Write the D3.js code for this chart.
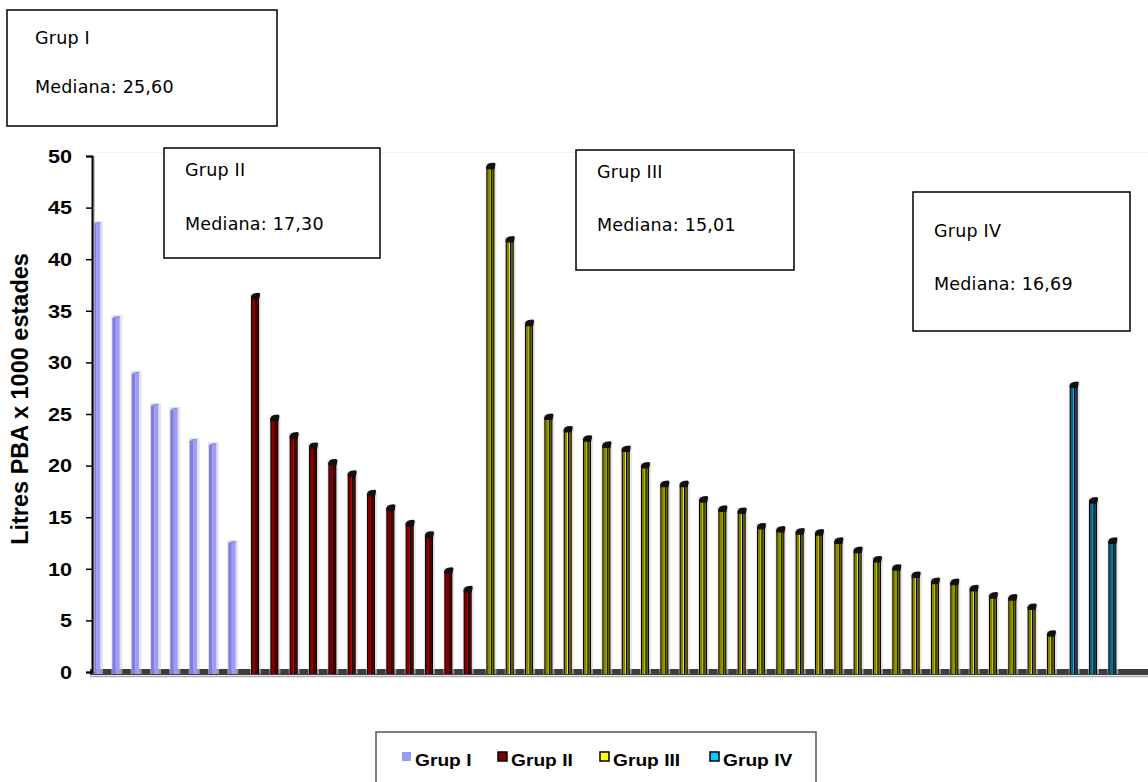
<!DOCTYPE html>
<html>
<head>
<meta charset="utf-8">
<script src="https://cdn.jsdelivr.net/npm/d3@7"></script>
<style>
  html, body { margin: 0; padding: 0; background: #fff; }
  svg { display: block; }
</style>
</head>
<body>
<svg id="chart" width="1148" height="782"></svg>
<script>
// ---- data ----
const groupNames = ["Grup I", "Grup II", "Grup III", "Grup IV"];
const grupI   = [43.4, 34.3, 28.9, 25.8, 25.4, 22.4, 22.0, 12.5];
const grupII  = [36.4, 24.6, 22.9, 21.9, 20.3, 19.2, 17.3, 15.9, 14.4, 13.3, 9.8, 8.0];
const grupIII = [49.0, 41.9, 33.8, 24.7, 23.5, 22.6, 22.0, 21.6, 20.0, 18.2, 18.2, 16.7, 15.8, 15.6,
                 14.1, 13.8, 13.6, 13.5, 12.7, 11.8, 10.9, 10.1, 9.4, 8.8, 8.7, 8.1, 7.4, 7.2, 6.3, 3.7];
const grupIV  = [27.8, 16.6, 12.7];
const medianLabels = ["25,60", "17,30", "15,01", "16,69"];
const yTickValues = [0, 5, 10, 15, 20, 25, 30, 35, 40, 45, 50];
const yAxisTitle = "Litres PBA x 1000 estades";

// ---- styles ----
const palette = {
  "Grup I":   {a: "#7f7fda", b: "#9c9cff", c: "#8e8ef0", legend: "#9999ff", outline: false},
  "Grup II":  {a: "#800000", b: "#c00000", c: "#5e0000", legend: "#800000", outline: true},
  "Grup III": {a: "#848400", b: "#e8e800", c: "#666600", legend: "#ffff00", outline: true},
  "Grup IV":  {a: "#0b6587", b: "#2aa6d0", c: "#074e6a", legend: "#00ccff", outline: true}
};

// build flat list of bars (one category per bar)
const seriesValues = [grupI, grupII, grupIII, grupIV];
const bars = [];
seriesValues.forEach((vals, s) => vals.forEach(v => bars.push({group: groupNames[s], value: v, idx: bars.length})));

const svg = d3.select("#chart");
const x = d3.scaleBand().domain(d3.range(bars.length)).range([93, 93 + bars.length * 19.33]).padding(0);
const xs = d3.scalePoint().domain(groupNames).range([0, 10.2]);
const y = d3.scaleLinear().domain([0, 50]).range([672, 156]);
const barW = 8;

// faint back wall top line
svg.append("line").attr("x1", 95).attr("x2", 1148).attr("y1", 152.5).attr("y2", 152.5)
  .attr("stroke", "#f0f0f0").attr("stroke-width", 1);

// floor
svg.append("rect").attr("x", 90).attr("y", 669).attr("width", 1058).attr("height", 6).attr("fill", "#3d3d3d");
svg.append("line").attr("x1", 90).attr("x2", 1148).attr("y1", 676.5).attr("y2", 676.5)
  .attr("stroke", "#a8a8a8").attr("stroke-width", 1.5);

// bars
const bg = svg.append("g");
bars.forEach(d => {
  const c = palette[d.group];
  const x0 = x(d.idx) + xs(d.group);
  const yt = y(d.value);
  const yb = 674;
  const g = bg.append("g");
  g.append("rect").attr("x", x0 - 1).attr("y", yt - 3).attr("width", barW + 3).attr("height", yb - yt + 3)
    .attr("fill", "#d4d4d4").attr("opacity", 0.6);
  if (c.outline) {
    g.append("rect").attr("x", x0).attr("y", yt).attr("width", barW).attr("height", yb - yt).attr("fill", "#000");
    g.append("rect").attr("x", x0 + 1).attr("y", yt + 1).attr("width", 2.2).attr("height", yb - yt - 1).attr("fill", c.a);
    g.append("rect").attr("x", x0 + 3.2).attr("y", yt + 1).attr("width", 1.1).attr("height", yb - yt - 1).attr("fill", c.b);
    g.append("rect").attr("x", x0 + 5.3).attr("y", yt + 1).attr("width", 1.8).attr("height", yb - yt - 1).attr("fill", c.c);
    g.append("path")
      .attr("d", `M${x0},${yt + 3} L${x0},${yt} Q${x0 + 0.5},${yt - 2.5} ${x0 + 3.5},${yt - 3.2} L${x0 + 7.5},${yt - 3.6} Q${x0 + 9.6},${yt - 3.4} ${x0 + 8.8},${yt - 0.5} L${x0 + 8},${yt + 3} Z`)
      .attr("fill", "#111");
  } else {
    g.append("rect").attr("x", x0).attr("y", yt).attr("width", 3.5).attr("height", yb - yt).attr("fill", c.a);
    g.append("rect").attr("x", x0 + 3.5).attr("y", yt - 0.5).attr("width", 3.8).attr("height", yb - yt + 0.5).attr("fill", c.b);
    g.append("path")
      .attr("d", `M${x0},${yt} L${x0 + 2.5},${yt - 1.5} L${x0 + 7.3},${yt - 2} L${x0 + 7.3},${yt} Z`)
      .attr("fill", c.c);
  }
});

// y axis
svg.append("line").attr("x1", 94).attr("x2", 94).attr("y1", 156).attr("y2", 672)
  .attr("stroke", "#b0b0b0").attr("stroke-width", 1.5);
const yAxis = d3.axisLeft(y).tickValues(yTickValues).tickSize(6).tickPadding(10).tickFormat(d3.format("d"));
const ya = svg.append("g").attr("transform", "translate(92,0)").call(yAxis);
ya.select(".domain").attr("stroke", "#000").attr("stroke-width", 2);
ya.selectAll(".tick line").attr("stroke", "#000").attr("stroke-width", 1.5);
ya.selectAll(".tick text")
  .attr("font-family", "Liberation Sans, Arial, sans-serif")
  .attr("font-weight", "bold").attr("font-size", 18).attr("fill", "#000")
  .attr("x", 0).attr("dy", "0.35em")
  .attr("transform", "translate(-20,0) scale(1.2,1)");

// y axis title
svg.append("text")
  .attr("transform", "translate(28,399) rotate(-90)")
  .attr("text-anchor", "middle")
  .attr("font-family", "Liberation Sans, Arial, sans-serif")
  .attr("font-weight", "bold").attr("font-size", 23.5).attr("fill", "#000")
  .text(yAxisTitle);

// median boxes
const boxes = [
  {x: 7, y: 10, w: 270, h: 116, t1: 44, t2: 93, pad: 28},
  {x: 164, y: 148, w: 216, h: 110, t1: 176, t2: 230, pad: 21},
  {x: 576, y: 150, w: 218, h: 120, t1: 178, t2: 231, pad: 21},
  {x: 913, y: 192, w: 217, h: 139, t1: 237, t2: 290, pad: 21}
];
boxes.forEach((b, i) => {
  svg.append("rect").attr("x", b.x).attr("y", b.y).attr("width", b.w).attr("height", b.h)
    .attr("fill", "#fff").attr("stroke", "#000").attr("stroke-width", 1.5);
  svg.append("text").attr("x", b.x + b.pad).attr("y", b.t1)
    .attr("font-family", "DejaVu Sans, Verdana, sans-serif").attr("font-size", 17.5)
    .attr("letter-spacing", 0.2).attr("fill", "#000")
    .text(groupNames[i]);
  svg.append("text").attr("x", b.x + b.pad).attr("y", b.t2)
    .attr("font-family", "DejaVu Sans, Verdana, sans-serif").attr("font-size", 17.5)
    .attr("letter-spacing", 0.2).attr("fill", "#000")
    .text("Mediana: " + medianLabels[i]);
});

// legend
svg.append("rect").attr("x", 376).attr("y", 732).attr("width", 440).attr("height", 70)
  .attr("fill", "#fff").attr("stroke", "#555").attr("stroke-width", 1.5);
const legendX = [402, 498, 600, 710];
groupNames.forEach((n, i) => {
  const c = palette[n];
  svg.append("rect").attr("x", legendX[i]).attr("y", 752).attr("width", 9).attr("height", 9)
    .attr("fill", c.legend).attr("stroke", c.outline ? "#000" : "none").attr("stroke-width", 1.5);
  svg.append("text").attr("transform", `translate(${legendX[i] + 13},766) scale(1.2,1)`)
    .attr("font-family", "Liberation Sans, Arial, sans-serif").attr("font-weight", "bold")
    .attr("font-size", 16).attr("fill", "#000").text(n);
});
</script>
</body>
</html>
